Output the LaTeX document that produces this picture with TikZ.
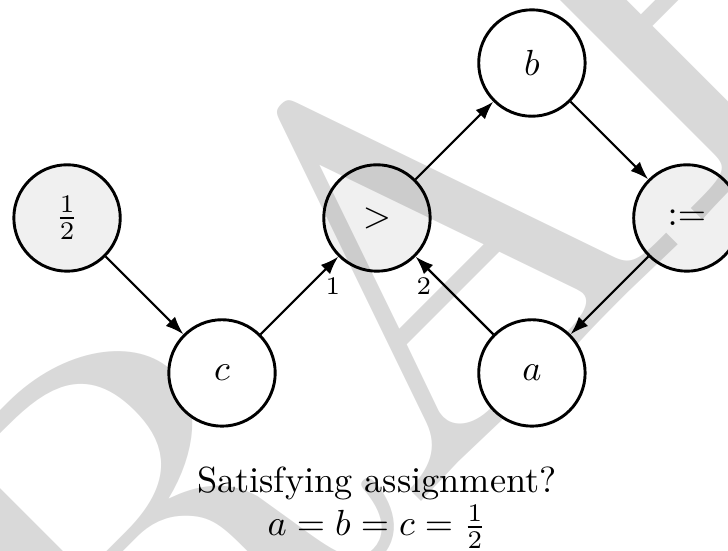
\documentclass[tikz,border=0pt]{standalone}
\usepackage{amsmath,amssymb}
\usepackage{xcolor}
\usepackage{tikz}
\usetikzlibrary{arrows.meta,positioning}

\begin{document}
\begin{tikzpicture}[
    var/.style={circle,draw,thick,fill=white,minimum size=1.03cm,inner sep=0pt},
    op/.style={var,fill=black,fill opacity=0.06,text opacity=1},
    edge/.style={-{Latex[length=5pt,width=3.6pt]},semithick},
    lab/.style={font=\scriptsize,inner sep=0pt},
    wmark/.style={rotate=45,text=black!15,inner sep=0pt,font=\normalsize}
  ]
  \useasboundingbox (0,0) rectangle (7.047,5.324);
  % watermark behind the graph
  \begin{scope}
    \clip (0,0) rectangle (7.047,5.324);
    \node[wmark] (wm) at (3.84,2.75) {\scalebox{14.6}{DRAFT}};
  \end{scope}
  % nodes
  \node[op]  (half) at (0.649,3.214) {$\frac{1}{2}$};
  \node[var] (c)    at (2.149,1.714) {$c$};
  \node[op]  (gt)   at (3.649,3.214) {$>$};
  \node[var] (b)    at (5.149,4.714) {$b$};
  \node[op]  (asg)  at (6.649,3.214) {$:=$};
  \node[var] (a)    at (5.149,1.714) {$a$};
  % edges
  \draw[edge] (half) -- (c);
  \draw[edge] (c) -- (gt) node[lab,pos=1,xshift=-1.5pt,yshift=-8pt] (l1) {1};
  \draw[edge] (a) -- (gt) node[lab,pos=1,xshift=2.3pt,yshift=-8pt] (l2) {2};
  \draw[edge] (gt) -- (b);
  \draw[edge] (b) -- (asg);
  \draw[edge] (asg) -- (a);
  % question
  \node[align=center] (q) at (3.649,0.41) {Satisfying assignment?\\ $a=b=c=\frac{1}{2}$};
\end{tikzpicture}
\end{document}
